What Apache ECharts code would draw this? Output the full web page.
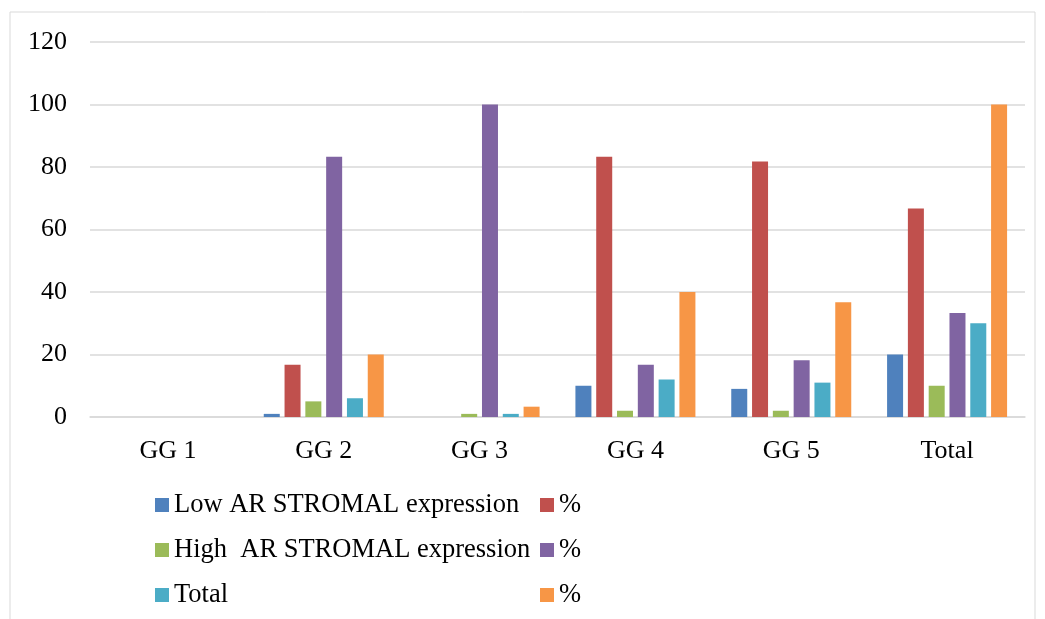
<!DOCTYPE html>
<html>
<head>
<meta charset="utf-8">
<script src="https://cdn.jsdelivr.net/npm/echarts@6/dist/echarts.min.js"></script>
<style>html,body{margin:0;padding:0;background:#fff}#c{width:1045px;height:619px}</style>
</head>
<body>
<div id="c"></div>
<script>
const categories = ['GG 1', 'GG 2', 'GG 3', 'GG 4', 'GG 5', 'Total'];
const lowAR = [0, 1, 0, 10, 9, 20];
const lowPct = [0, 16.7, 0, 83.3, 81.8, 66.7];
const highAR = [0, 5, 1, 2, 2, 10];
const highPct = [0, 83.3, 100, 16.7, 18.2, 33.3];
const total = [0, 6, 1, 12, 11, 30];
const totalPct = [0, 20, 3.3, 40, 36.7, 100];
const yTicks = { min: 0, max: 120, interval: 20 };

const seriesDefs = [
  { name: 'Low AR STROMAL expression', data: lowAR, color: '#4F81BD' },
  { name: '% (Low)', data: lowPct, color: '#C0504D' },
  { name: 'High  AR STROMAL expression', data: highAR, color: '#9BBB59' },
  { name: '% (High)', data: highPct, color: '#8064A2' },
  { name: 'Total', data: total, color: '#4BACC6' },
  { name: '% (Total)', data: totalPct, color: '#F79646' }
];

const font = '"Liberation Serif", "Times New Roman", serif';
const chart = echarts.init(document.getElementById('c'), null, { renderer: 'canvas' });
const legendCommon = {
  orient: 'vertical',
  top: 490,
  padding: 0,
  itemGap: 15,
  itemWidth: 14,
  itemHeight: 14,
  icon: 'rect',
  selectedMode: false,
  textStyle: { fontFamily: font, fontSize: 26.5, color: '#000', lineHeight: 30 },
  formatter: n => n.startsWith('%') ? '%' : n
};
chart.setOption({
  animation: false,
  backgroundColor: '#fff',
  graphic: [{
    type: 'rect', shape: { x: 10, y: 12, width: 1025, height: 620 },
    style: { fill: 'none', stroke: '#d9d9d9', lineWidth: 1 }, silent: true, z: -1
  }],
  grid: { left: 90, right: 20, top: 42, bottom: 202 },
  legend: [
    Object.assign({}, legendCommon, { left: 155, data: [seriesDefs[0].name, seriesDefs[2].name, seriesDefs[4].name] }),
    Object.assign({}, legendCommon, { left: 540, data: [seriesDefs[1].name, seriesDefs[3].name, seriesDefs[5].name] })
  ],
  xAxis: {
    type: 'category',
    data: categories,
    axisLine: { lineStyle: { color: '#d9d9d9', width: 1.5 } },
    axisTick: { show: false },
    axisLabel: { fontFamily: font, fontSize: 26, color: '#000', margin: 21 }
  },
  yAxis: {
    type: 'value',
    min: yTicks.min, max: yTicks.max, interval: yTicks.interval,
    axisLine: { show: false },
    axisTick: { show: false },
    splitLine: { lineStyle: { color: '#d9d9d9', width: 1.5 } },
    axisLabel: { fontFamily: font, fontSize: 26, color: '#000', margin: 23 }
  },
  series: seriesDefs.map(s => ({
    name: s.name,
    type: 'bar',
    data: s.data,
    barWidth: 16,
    barGap: '30%',
    itemStyle: { color: s.color }
  }))
});
</script>
</body>
</html>
